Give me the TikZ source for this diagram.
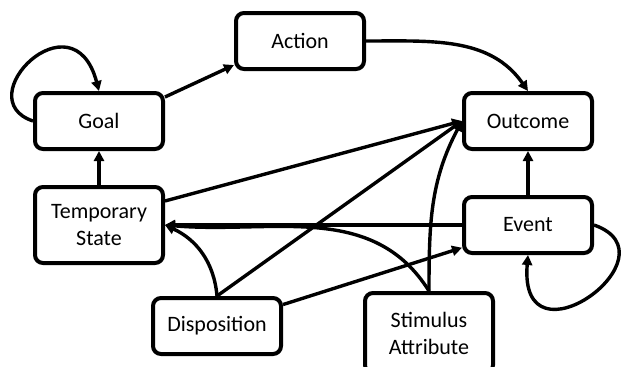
\documentclass[tikz,border=0pt]{standalone}
\usepackage{fontspec}
\setmainfont{Carlito}
\usetikzlibrary{arrows.meta}

\tikzset{
  factor/.style={draw, line width=2pt, rounded corners=4pt, align=center,
    minimum width=64pt, minimum height=28pt, inner sep=2pt,
    font=\fontsize{11}{13.5}\selectfont},
  link/.style={line width=1.7pt, -{Triangle[length=5pt,width=5pt]}}
}

\begin{document}
\begin{tikzpicture}[x=0.5pt,y=0.5pt]
  \useasboundingbox (0,0) rectangle (625,366);
  % factors
  \node[factor] (goal) at (99,245) {Goal};
  \node[factor] (action) at (300,325) {Action};
  \node[factor] (outcome) at (528,245) {Outcome};
  \node[factor, minimum height=38pt] (temp) at (99,141) {Temporary\\State};
  \node[factor] (event) at (528,141) {Event};
  \node[factor] (disp) at (217,40) {Disposition};
  \node[factor, minimum height=40pt] (stim) at (429,33) {Stimulus\\Attribute};
  % links
  \draw[link] (goal.west) .. controls +(-66,22) and +(-26,98) .. (goal.north);
  \draw[link] (goal.20) -- (action.200);
  \draw[link] (action.east) to[out=0,in=125] (outcome.north);
  \draw[link] (temp.north) -- (goal.south);
  \draw[link] (temp.20) -- (outcome.west);
  \draw[link] (event.west) -- (temp.east);
  \draw[link] (event.north) -- (outcome.south);
  \draw[link] (event.east) .. controls +(86,-30) and +(-10,-118) .. (event.south);
  \draw[link] (disp.north) to[out=95,in=-25] (temp.east);
  \draw[link] (disp.north) -- (outcome.west);
  \draw[link] (disp.18) -- (event.199);
  \draw[link] (stim.north) to[out=122,in=-5] (temp.east);
  \draw[link] (stim.north) to[out=90,in=-118] (outcome.west);
\end{tikzpicture}
\end{document}
